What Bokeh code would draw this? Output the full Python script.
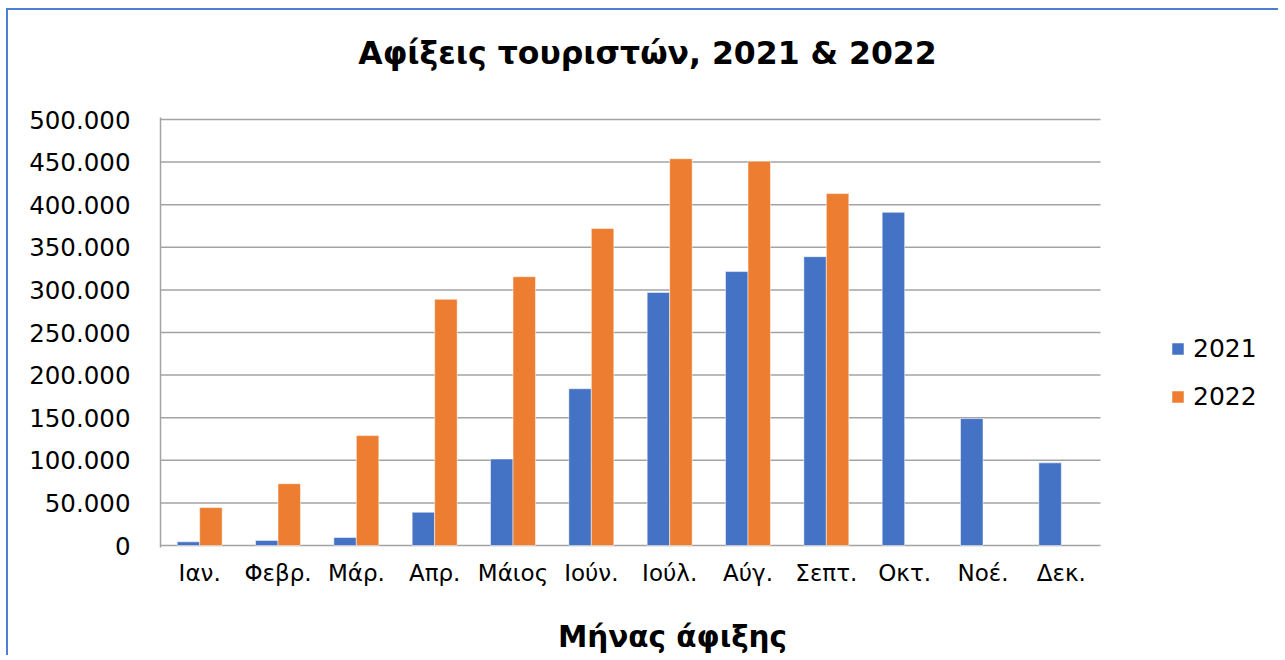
from bokeh.plotting import figure
from bokeh.models import (ColumnDataSource, Range1d, FixedTicker, LinearAxis,
                          Legend, LegendItem)
from bokeh.transform import dodge
from bokeh.embed import file_html
from bokeh.resources import INLINE

# ---- data ----
months = ["Ιαν.", "Φεβρ.", "Μάρ.", "Απρ.", "Μάιος", "Ιούν.", "Ιούλ.",
          "Αύγ.", "Σεπτ.", "Οκτ.", "Νοέ.", "Δεκ."]
arrivals_2021 = [4300, 6000, 9400, 39000, 101500, 184000, 297000, 321500,
                 339000, 391000, 149000, 97000]
months_2022 = ["Ιαν.", "Φεβρ.", "Μάρ.", "Απρ.", "Μάιος", "Ιούν.", "Ιούλ.",
               "Αύγ.", "Σεπτ."]
arrivals_2022 = [44500, 72500, 129000, 289000, 315500, 372000, 454000,
                 451000, 413000]
y_ticks = [0, 50000, 100000, 150000, 200000, 250000, 300000, 350000,
           400000, 450000, 500000]
y_tick_labels = ["0", "50.000", "100.000", "150.000", "200.000", "250.000",
                 "300.000", "350.000", "400.000", "450.000", "500.000"]
title_text = "Αφίξεις τουριστών, 2021 & 2022"
x_title_text = "Μήνας άφιξης"
series_names = ["2021", "2022"]

FONT = "DejaVu Sans"
BLUE = "#4472C4"
ORANGE = "#ED7D31"
GRID = "#A3A3A3"

n = len(months)
pos = {m: i + 0.5 for i, m in enumerate(months)}
src21 = ColumnDataSource(dict(x=[pos[m] for m in months], v=arrivals_2021))
src22 = ColumnDataSource(dict(x=[pos[m] for m in months_2022], v=arrivals_2022))
grid_src = ColumnDataSource(dict(x0=[0] * len(y_ticks), x1=[n] * len(y_ticks),
                                 y=y_ticks))

# layout (pixels)
CAT_PX = 940.0 / n          # width of one month slot
FRAME_W = 1120
FRAME_H = 430
PAD_PX = 2                   # keep edge grid lines unclipped
TITLE_CX = 487 / CAT_PX      # horizontal centre of the chart title
XTITLE_CX = 512 / CAT_PX     # horizontal centre of the x axis title
y_max = y_ticks[-1]
y_pad = y_max * PAD_PX / (FRAME_H - 2 * PAD_PX)

p = figure(x_range=Range1d(0, FRAME_W / CAT_PX),
           y_range=Range1d(-y_pad, y_max + y_pad),
           frame_width=FRAME_W, frame_height=FRAME_H, title=None,
           output_backend="svg", toolbar_location=None,
           min_border_left=152, min_border_right=0,
           min_border_top=107, min_border_bottom=110)
p.styles = {"box-shadow": "-2px -2px 0 0 #4A7FD4", "margin-left": "8px",
            "margin-top": "10px"}
p.outline_line_color = None
p.background_fill_color = "white"
p.border_fill_color = "white"

# grid lines (and baseline) limited to the month area
p.segment(x0="x0", x1="x1", y0="y", y1="y", source=grid_src,
          line_color=GRID, line_width=1.5)

bw = 0.287
r21 = p.vbar(x=dodge("x", -bw / 2), top="v", width=bw,
             source=src21, fill_color=BLUE, line_color="white",
             line_alpha=0.5, line_width=1)
r22 = p.vbar(x=dodge("x", bw / 2), top="v", width=bw,
             source=src22, fill_color=ORANGE, line_color="white",
             line_alpha=0.5, line_width=1)


def plain(ax):
    ax.major_tick_line_color = None
    ax.minor_tick_line_color = None
    ax.major_tick_out = 0
    ax.major_tick_in = 0
    ax.major_label_text_font = FONT
    ax.major_label_text_color = "#000000"


# axes
p.yaxis.ticker = FixedTicker(ticks=y_ticks)
p.yaxis.major_label_overrides = {t: l for t, l in zip(y_ticks, y_tick_labels)}
p.xaxis.ticker = FixedTicker(ticks=[pos[m] for m in months])
p.xaxis.major_label_overrides = {pos[m]: m for m in months}
for ax in (p.xaxis[0], p.yaxis[0]):
    plain(ax)
    ax.axis_line_color = GRID
    ax.axis_line_width = 1.5
p.xaxis.axis_line_color = None
p.yaxis.major_label_text_font_size = "24.5px"
p.yaxis.major_label_standoff = 30
p.xaxis.major_label_text_font_size = "23px"
p.xaxis.major_label_standoff = 12
p.xgrid.grid_line_color = None
p.ygrid.grid_line_color = None

# chart title and x axis title, placed as single labels of extra axes
title_axis = LinearAxis(ticker=FixedTicker(ticks=[TITLE_CX]),
                        major_label_overrides={TITLE_CX: title_text},
                        axis_line_color=None, major_label_standoff=47,
                        major_label_text_font_style="bold",
                        major_label_text_font_size="31.5px")
plain(title_axis)
p.add_layout(title_axis, "above")

xtitle_axis = LinearAxis(ticker=FixedTicker(ticks=[XTITLE_CX]),
                         major_label_overrides={XTITLE_CX: x_title_text},
                         axis_line_color=None, major_label_standoff=31,
                         major_label_text_font_style="bold",
                         major_label_text_font_size="29.5px")
plain(xtitle_axis)
p.add_layout(xtitle_axis, "below")

legend = Legend(items=[LegendItem(label=series_names[0], renderers=[r21]),
                       LegendItem(label=series_names[1], renderers=[r22])],
                location=(1010, 136), orientation="vertical",
                padding=0, margin=0, border_line_color=None,
                background_fill_alpha=0,
                glyph_width=15, glyph_height=15, label_standoff=8,
                label_height=30, spacing=18,
                label_text_font=FONT, label_text_font_size="25px",
                label_text_color="#000000")
p.add_layout(legend, "center")

open("out.html", "w").write(file_html(p, INLINE))
